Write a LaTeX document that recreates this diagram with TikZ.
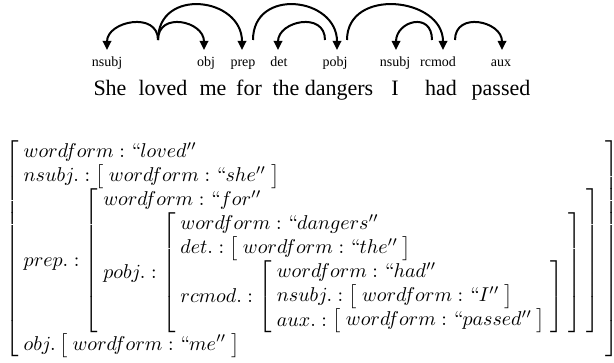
\documentclass[tikz,border=0pt]{standalone}
\usepackage{amsmath}
\usepackage[no-math]{fontspec}
\newfontfamily\depfont{Liberation Serif}
\usetikzlibrary{arrows.meta}
\tikzset{
  word/.style={font=\depfont\fontsize{11}{13}\selectfont, anchor=base, inner sep=0pt},
  rel/.style={font=\depfont\fontsize{7}{8}\selectfont, anchor=base, inner sep=0pt},
  dep/.style={-{Triangle[length=4.5pt,width=4.2pt]}, line width=1pt},
  avm/.style={anchor=west, inner sep=0pt},
}
\begin{document}
\begin{tikzpicture}[x=0.5pt,y=-0.5pt]
  \useasboundingbox (0,0) rectangle (614,363);
  % sentence
  \foreach \x/\w in {110/She, 163/loved, 213/me, 249/for, 286/the,
                     339/dangers, 395/I, 441/had, 501/passed}
    \node[word] (w-\w) at (\x,96) {\w};
  % relation labels
  \foreach \x/\n/\t in {107/1/nsubj, 206/2/obj, 243/3/prep, 279/4/det,
                        335/5/pobj, 395/6/nsubj, 438/7/rcmod, 501/8/aux}
    \node[rel] (r\n) at (\x,67) {\t};
  % arc ends
  \coordinate (h-loved) at (158,40);
  \coordinate (h-for) at (253,40);
  \coordinate (h-dangers-l) at (325,40);
  \coordinate (h-dangers-r) at (347,40);
  \coordinate (h-had-l) at (432,40);
  \coordinate (h-had-r) at (455,40);
  \coordinate (t1) at (107,50); \coordinate (t2) at (204,50);
  \coordinate (t3) at (242,50); \coordinate (t4) at (278,50);
  \coordinate (t5) at (337,50); \coordinate (t6) at (396,50);
  \coordinate (t7) at (443,50); \coordinate (t8) at (502,50);
  \foreach \a/\b/\c in {h-loved/t1/29, h-loved/t2/29, h-loved/t3/53,
                        h-for/t5/53, h-dangers-l/t4/29, h-dangers-r/t7/53,
                        h-had-l/t6/29, h-had-r/t8/29}
    \draw[dep] (\a) .. controls +(0,-\c) and +(0,-\c) .. (\b);
  % feature structure
  \node[avm] (fs) at (5,249) {\arraycolsep=2.5pt$\left[\begin{array}{l}
    wordform : ``loved''\\
    nsubj. : \left[\begin{array}{l} wordform : ``she'' \end{array}\right]\\
    prep. : \left[\begin{array}{l}
      wordform : ``for''\\
      pobj. : \left[\begin{array}{l}
        wordform : ``dangers''\\
        det. : \left[\begin{array}{l} wordform : ``the'' \end{array}\right]\\
        rcmod. : \left[\begin{array}{l}
          wordform : ``had''\\
          nsubj. : \left[\begin{array}{l} wordform : ``I'' \end{array}\right]\\
          aux. : \left[\begin{array}{l} wordform : ``passed'' \end{array}\right]
        \end{array}\right]
      \end{array}\right]
    \end{array}\right]\\
    obj. \left[\begin{array}{l} wordform : ``me'' \end{array}\right]
  \end{array}\right]$};
\end{tikzpicture}
\end{document}
